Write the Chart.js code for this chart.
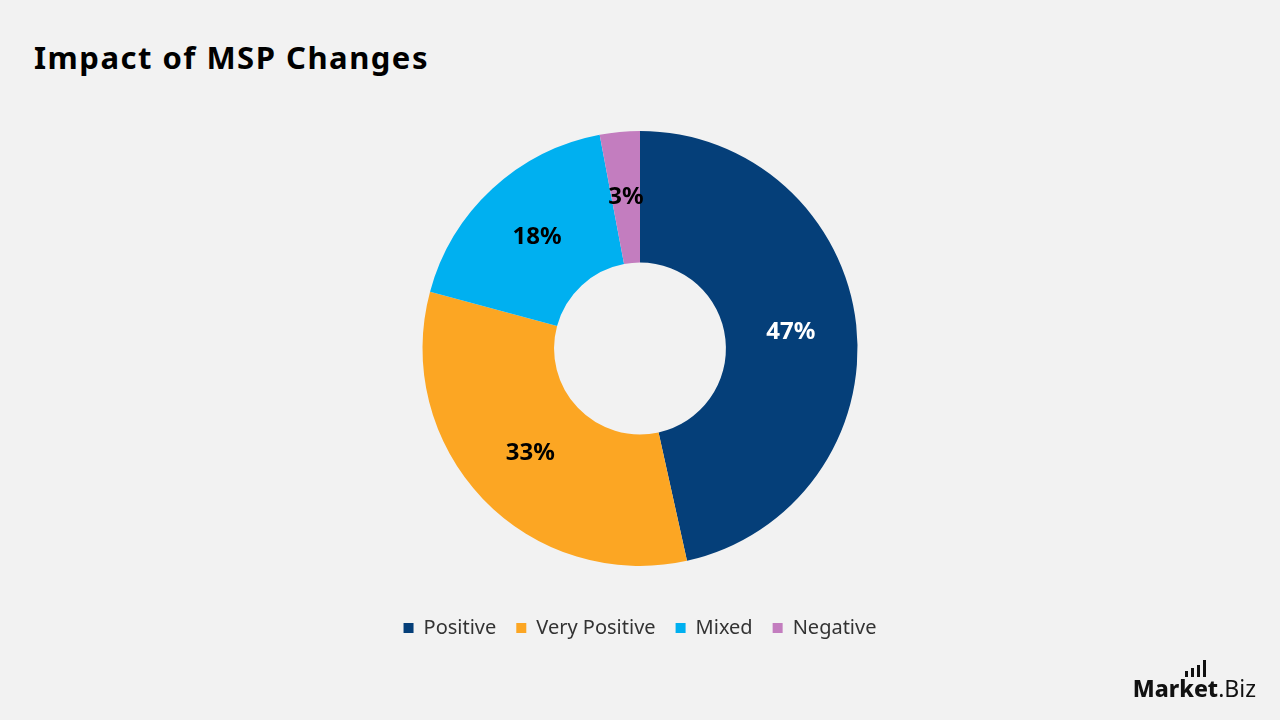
<!DOCTYPE html>
<html>
<head>
<meta charset="utf-8">
<script src="https://cdn.jsdelivr.net/npm/chart.js@4.4.1/dist/chart.umd.min.js"></script>
<style>
    html, body { margin: 0; padding: 0; background: #f2f2f2; }
    body { width: 1280px; height: 720px; position: relative; overflow: hidden; font-family: "Noto Sans", sans-serif; }
    #titulo { position: absolute; left: 34px; top: 36px; font-size: 31px; font-weight: 700; color: #000; letter-spacing: 1.5px; }
    #grafico-box { position: absolute; left: 0; top: 0; width: 1280px; height: 720px; }
    #logo { position: absolute; right: 24px; top: 672px; font-size: 23px; color: #111; }
    #logo b { font-weight: 800; }
    .barra { position: absolute; width: 3px; background: #111; bottom: 27px; }
</style>
</head>
<body>
<div id="titulo">Impact of MSP Changes</div>
<div id="grafico-box"><canvas id="graficoMsp" width="1280" height="720"></canvas></div>
<div id="logo"><b>Market</b>.Biz
    <span class="barra" style="left:52px;height:6px"></span>
    <span class="barra" style="left:58px;height:9px"></span>
    <span class="barra" style="left:64px;height:12px"></span>
    <span class="barra" style="left:70px;height:17px"></span>
</div>
<script>
const categorias = ['Positive', 'Very Positive', 'Mixed', 'Negative'];
const valores = [47, 33, 18, 3];
const cores = ['#053f79', '#fca623', '#00b0f0', '#c37dbf'];
const coresRotulo = ['#ffffff', '#000000', '#000000', '#000000'];

// rotulos de porcentagem no meio do anel
const rotulosPlugin = {
    id: 'rotulos',
    afterDatasetsDraw(chart) {
        const ctx = chart.ctx;
        const meta = chart.getDatasetMeta(0);
        ctx.save();
        ctx.font = '700 24px "Noto Sans"';
        ctx.textAlign = 'center';
        ctx.textBaseline = 'middle';
        meta.data.forEach((arc, i) => {
            const p = arc.tooltipPosition();
            ctx.fillStyle = coresRotulo[i];
            ctx.fillText(valores[i] + '%', p.x, p.y);
        });
        ctx.restore();
    }
};

new Chart(document.getElementById('graficoMsp'), {
    type: 'doughnut',
    data: {
        labels: categorias,
        datasets: [{
            data: valores,
            backgroundColor: cores,
            borderWidth: 0,
        }],
    },
    options: {
        responsive: false,
        animation: false,
        cutout: '39.5%',
        layout: { padding: { top: 131, bottom: 72 } },
        plugins: {
            tooltip: { enabled: false },
            legend: {
                position: 'bottom',
                title: { display: true, text: ' ', font: { size: 10 }, padding: 10 },
                labels: {
                    usePointStyle: true,
                    pointStyle: 'rect',
                    boxWidth: 10,
                    boxHeight: 10,
                    padding: 20,
                    color: '#333',
                    font: { family: 'Noto Sans', size: 20 },
                },
            },
        },
    },
    plugins: [rotulosPlugin],
});
</script>
</body>
</html>
